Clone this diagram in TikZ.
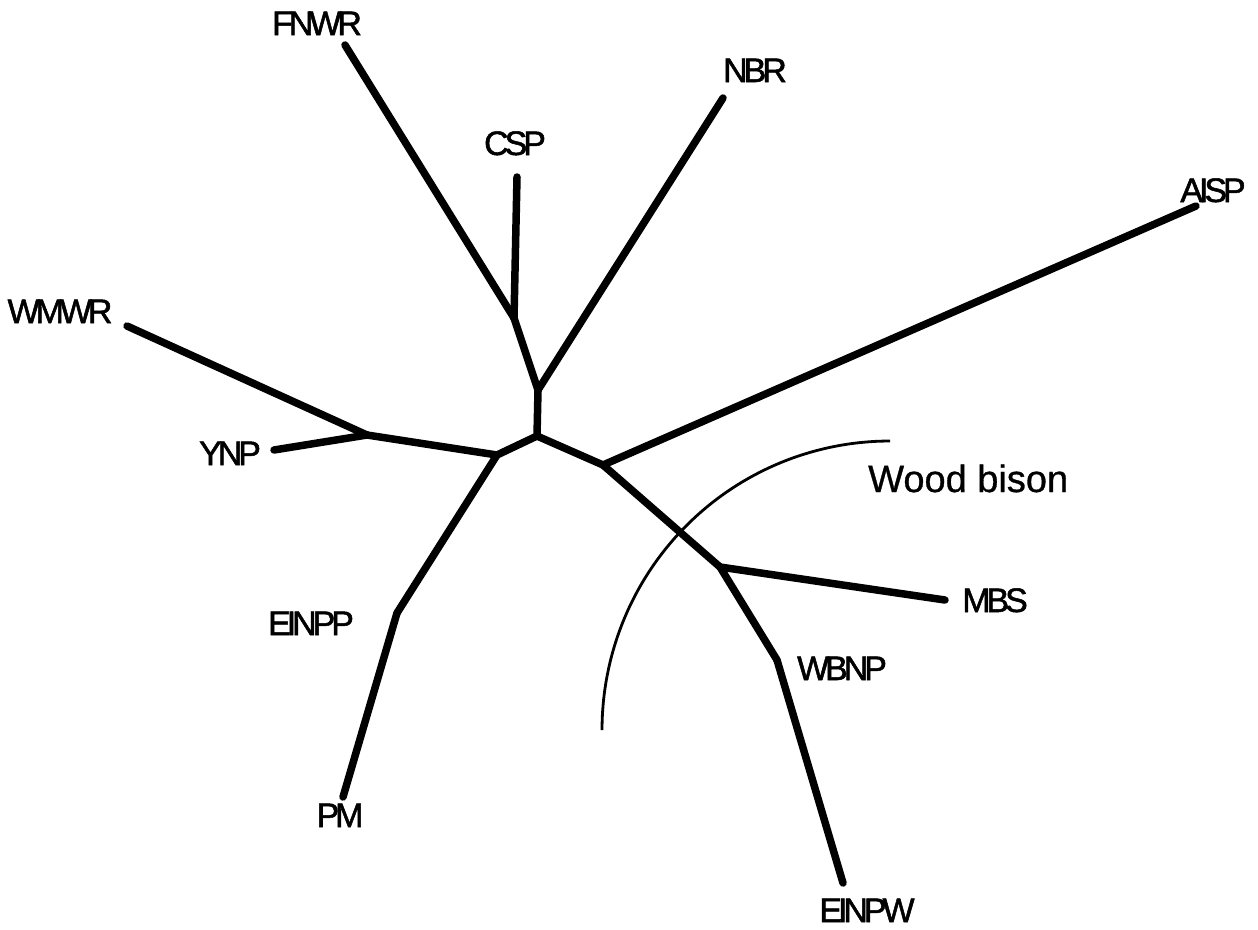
\documentclass[tikz,border=0pt]{standalone}
\usepackage{fontspec}
\setmainfont{Liberation Sans}
\newfontfamily\tightfont[LetterSpace=-12,FakeBold=1.5]{Liberation Sans}
\newfontfamily\cladefont[FakeBold=0.8]{Liberation Sans}
\begin{document}
\begin{tikzpicture}[x=1pt,y=-1pt,
  branch/.style={line width=7.5pt,line cap=round,line join=round},
  taxon/.style={anchor=base,inner sep=0pt,font=\tightfont\fontsize{34}{40}\selectfont},
  cladelabel/.style={anchor=base west,inner sep=0pt,font=\cladefont\fontsize{38}{44}\selectfont}]
\useasboundingbox (0,0) rectangle (1258,929);
% internal nodes
\coordinate (C) at (537,436);
\coordinate (A) at (538,390);
\coordinate (B) at (514,318);
\coordinate (D) at (497,455);
\coordinate (E) at (367,435);
\coordinate (F) at (397,613);
\coordinate (G) at (603,465);
\coordinate (H) at (720,567);
\coordinate (I) at (777,660);
% tips
\coordinate (fnwr) at (345,45);
\coordinate (csp) at (517,177);
\coordinate (nbr) at (723,98);
\coordinate (wmwr) at (127,326);
\coordinate (ynp) at (274,450);
\coordinate (pm) at (343,797);
\coordinate (aisp) at (1196,206);
\coordinate (mbs) at (945,600);
\coordinate (einpw) at (843,883);
% branches
\draw[branch] (C) -- (A);
\draw[branch] (A) -- (B);
\draw[branch] (A) -- (nbr);
\draw[branch] (B) -- (fnwr);
\draw[branch] (B) -- (csp);
\draw[branch] (C) -- (D);
\draw[branch] (D) -- (E);
\draw[branch] (E) -- (wmwr);
\draw[branch] (E) -- (ynp);
\draw[branch] (D) -- (F);
\draw[branch] (F) -- (pm);
\draw[branch] (C) -- (G);
\draw[branch] (G) -- (aisp);
\draw[branch] (G) -- (H);
\draw[branch] (H) -- (mbs);
\draw[branch] (H) -- (I);
\draw[branch] (I) -- (einpw);
% labels
\node[taxon] (lfnwr) at (317,35) {FNWR};
\node[taxon] (lcsp) at (515,155) {CSP};
\node[taxon] (lnbr) at (755,82) {NBR};
\node[taxon] (laisp) at (1213,202) {AISP};
\node[taxon] (lwmwr) at (60,323) {WMWR};
\node[taxon] (lynp) at (230,465) {YNP};
\node[taxon] (leinpp) at (311,635) {EINPP};
\node[taxon] (lpm) at (340,827) {PM};
\node[taxon] (lmbs) at (995,612) {MBS};
\node[taxon] (lwbnp) at (842,680) {WBNP};
\node[taxon] (leinpw) at (867,922) {EINPW};
% clade arc
\draw[line width=2.8pt] plot[domain=180:270,samples=60,smooth] ({890+288*cos(\x)},{730+289*sin(\x)});
\node[cladelabel] (wood) at (868,492) {Wood bison};
\end{tikzpicture}
\end{document}
